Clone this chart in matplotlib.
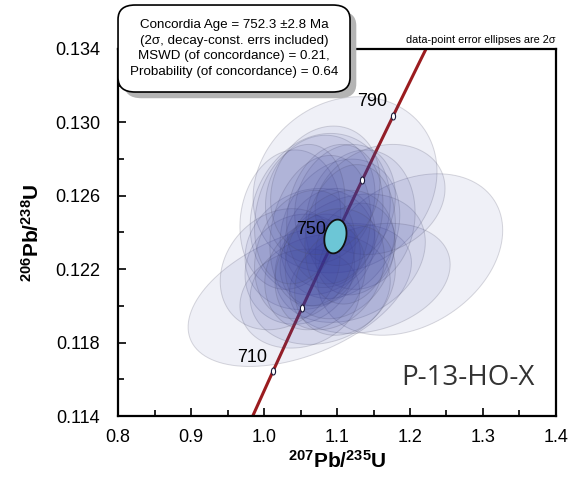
import numpy as np
import matplotlib as mpl
import matplotlib.pyplot as plt
from matplotlib.patches import Polygon, FancyBboxPatch
from matplotlib.ticker import FixedLocator, FormatStrFormatter

mpl.rcParams["font.family"] = ["Liberation Sans", "DejaVu Sans"]
mpl.rcParams["mathtext.fontset"] = "custom"
mpl.rcParams["mathtext.rm"] = "Liberation Sans"
mpl.rcParams["mathtext.bf"] = "Liberation Sans:bold"

# data-point error ellipses (2 sigma): centre, half-widths, error correlation
pb207_u235 = [1.049, 1.200, 1.111, 1.077, 1.104, 1.063, 1.118, 1.049, 1.090, 1.132,
              1.036, 1.077, 1.145, 1.077, 1.111, 1.049, 1.125, 1.077, 1.159, 1.022,
              1.077, 1.097, 1.056, 1.104, 1.070, 1.118, 1.049, 1.090, 1.084, 1.111]
pb206_u238 = [0.1206, 0.1228, 0.1266, 0.1250, 0.1242, 0.1231, 0.1226, 0.1220, 0.1237, 0.1247,
              0.1247, 0.1209, 0.1215, 0.1258, 0.1255, 0.1204, 0.1231, 0.1225, 0.1258, 0.1220,
              0.1241, 0.1250, 0.1228, 0.1228, 0.1217, 0.1239, 0.1250, 0.1220, 0.1263, 0.1214]
err_207 = [0.153, 0.127, 0.126, 0.096, 0.082, 0.089, 0.103, 0.075, 0.062, 0.075,
           0.069, 0.096, 0.110, 0.075, 0.069, 0.082, 0.055, 0.055, 0.089, 0.082,
           0.069, 0.066, 0.069, 0.075, 0.069, 0.062, 0.062, 0.075, 0.075, 0.069]
err_206 = [0.0039, 0.0044, 0.0048, 0.0044, 0.0038, 0.0033, 0.0035, 0.0030, 0.0027, 0.0038,
           0.0038, 0.0030, 0.0030, 0.0035, 0.0033, 0.0027, 0.0025, 0.0025, 0.0030, 0.0033,
           0.0041, 0.0038, 0.0035, 0.0035, 0.0030, 0.0038, 0.0038, 0.0033, 0.0035, 0.0030]
rho = [0.45, 0.3, 0.15, 0.15, 0.2, 0.15, 0.25, 0.1, 0.15, 0.1,
       0.1, 0.15, 0.25, 0.1, 0.15, 0.15, 0.15, 0.15, 0.2, 0.2,
       0.2, 0.15, 0.2, 0.2, 0.15, 0.15, 0.2, 0.2, 0.15, 0.2]

# concordia age ellipse
conc_age = 752.3
conc_err_207 = 0.0152
conc_err_206 = 0.00092
conc_rho = 0.2

tick_ages = [710, 730, 750, 770, 790]
label_ages = [710, 750, 790]

L238 = 1.55125e-10
L235 = 9.8485e-10


def concordia(t_ma):
    t = np.asarray(t_ma) * 1e6
    return np.exp(L235 * t) - 1, np.exp(L238 * t) - 1


def ellipse_xy(cx, cy, sx, sy, r, n=120):
    a = np.linspace(0, 2 * np.pi, n)
    x = cx + sx * np.cos(a)
    y = cy + sy * (r * np.cos(a) + np.sqrt(1 - r ** 2) * np.sin(a))
    return np.column_stack([x, y])


fig = plt.figure(figsize=(5.71, 4.78), dpi=100)
ax = fig.add_axes([0.2067, 0.1297, 0.767, 0.7678])

# concordia curve
t = np.linspace(680, 830, 300)
cx, cy = concordia(t)
ax.plot(cx, cy, color="#9b1c1f", lw=2.2, zorder=1)

for x, y, sx, sy, r in zip(pb207_u235, pb206_u238, err_207, err_206, rho):
    ax.add_patch(Polygon(ellipse_xy(x, y, sx, sy, r), closed=True,
                         facecolor=(0.2, 0.24, 0.62, 0.075),
                         edgecolor=(0.3, 0.3, 0.4, 0.22), lw=0.7, zorder=2))

# age ticks on the curve
vx, vy = concordia(tick_ages)
a = np.linspace(0, 2 * np.pi, 30)
tick_marker = np.column_stack([0.6 * np.cos(a), np.sin(a)])
ax.plot(vx, vy, ls="none", marker=tick_marker, ms=5, mfc="white", mec="#1a1a3a",
        mew=0.8, zorder=3)
for age in label_ages:
    lx, ly = concordia(age)
    ax.text(lx - 0.008, ly + 0.0003, str(age), fontsize=13, ha="right", va="bottom",
            zorder=4)

# concordia age ellipse
ccx, ccy = concordia(conc_age)
ax.add_patch(Polygon(ellipse_xy(ccx, ccy, conc_err_207, conc_err_206, conc_rho),
                     closed=True, facecolor="#6cc6d6", edgecolor="#111111", lw=1.3,
                     zorder=5))

ax.set_xlim(0.8, 1.4)
ax.set_ylim(0.114, 0.134)
ax.xaxis.set_major_locator(FixedLocator(np.arange(0.8, 1.401, 0.1)))
ax.xaxis.set_minor_locator(FixedLocator(np.arange(0.85, 1.4, 0.1)))
ax.yaxis.set_major_locator(FixedLocator(np.arange(0.114, 0.1341, 0.004)))
ax.yaxis.set_minor_locator(FixedLocator(np.arange(0.116, 0.134, 0.004)))
ax.xaxis.set_major_formatter(FormatStrFormatter("%.1f"))
ax.yaxis.set_major_formatter(FormatStrFormatter("%.3f"))
ax.tick_params(which="both", direction="in", width=1.2, labelsize=13, colors="black")
ax.tick_params(which="major", length=6)
ax.tick_params(which="minor", length=4)
ax.tick_params(axis="y", pad=13)
ax.tick_params(axis="x", pad=9)
for s in ax.spines.values():
    s.set_linewidth(1.6)

ax.set_xlabel(r"$\mathbf{^{207}Pb/^{235}U}$", fontsize=15, labelpad=3)
ax.set_ylabel(r"$\mathbf{^{206}Pb/^{238}U}$", fontsize=15, labelpad=9)

ax.text(0.952, 0.104, "P-13-HO-X", transform=ax.transAxes, ha="right", va="center",
        fontsize=20, color="#333333", family=["Open Sans", "DejaVu Sans"])
fig.text(0.972, 0.905, "data-point error ellipses are 2\u03c3", ha="right", va="bottom",
         fontsize=7.8)

# result box with drop shadow
bx, by, bw, bh = 0.2067, 0.8075, 0.4063, 0.182
shadow = FancyBboxPatch((bx + 0.011, by - 0.013), bw, bh, boxstyle="round,pad=0,rounding_size=0.03",
                        transform=fig.transFigure, facecolor="#b4b4b4", edgecolor="none", zorder=10)
box = FancyBboxPatch((bx, by), bw, bh, boxstyle="round,pad=0,rounding_size=0.03",
                     transform=fig.transFigure, facecolor="white", edgecolor="black", lw=1.2,
                     zorder=11)
fig.add_artist(shadow)
fig.add_artist(box)
fig.text(bx + bw / 2, by + bh / 2,
         "Concordia Age = 752.3 \u00b12.8 Ma\n(2\u03c3, decay-const. errs included)\n"
         "MSWD (of concordance) = 0.21,\nProbability (of concordance) = 0.64",
         ha="center", va="center", fontsize=9.6, linespacing=1.38, zorder=12)

fig.savefig("out.png", dpi=100)
